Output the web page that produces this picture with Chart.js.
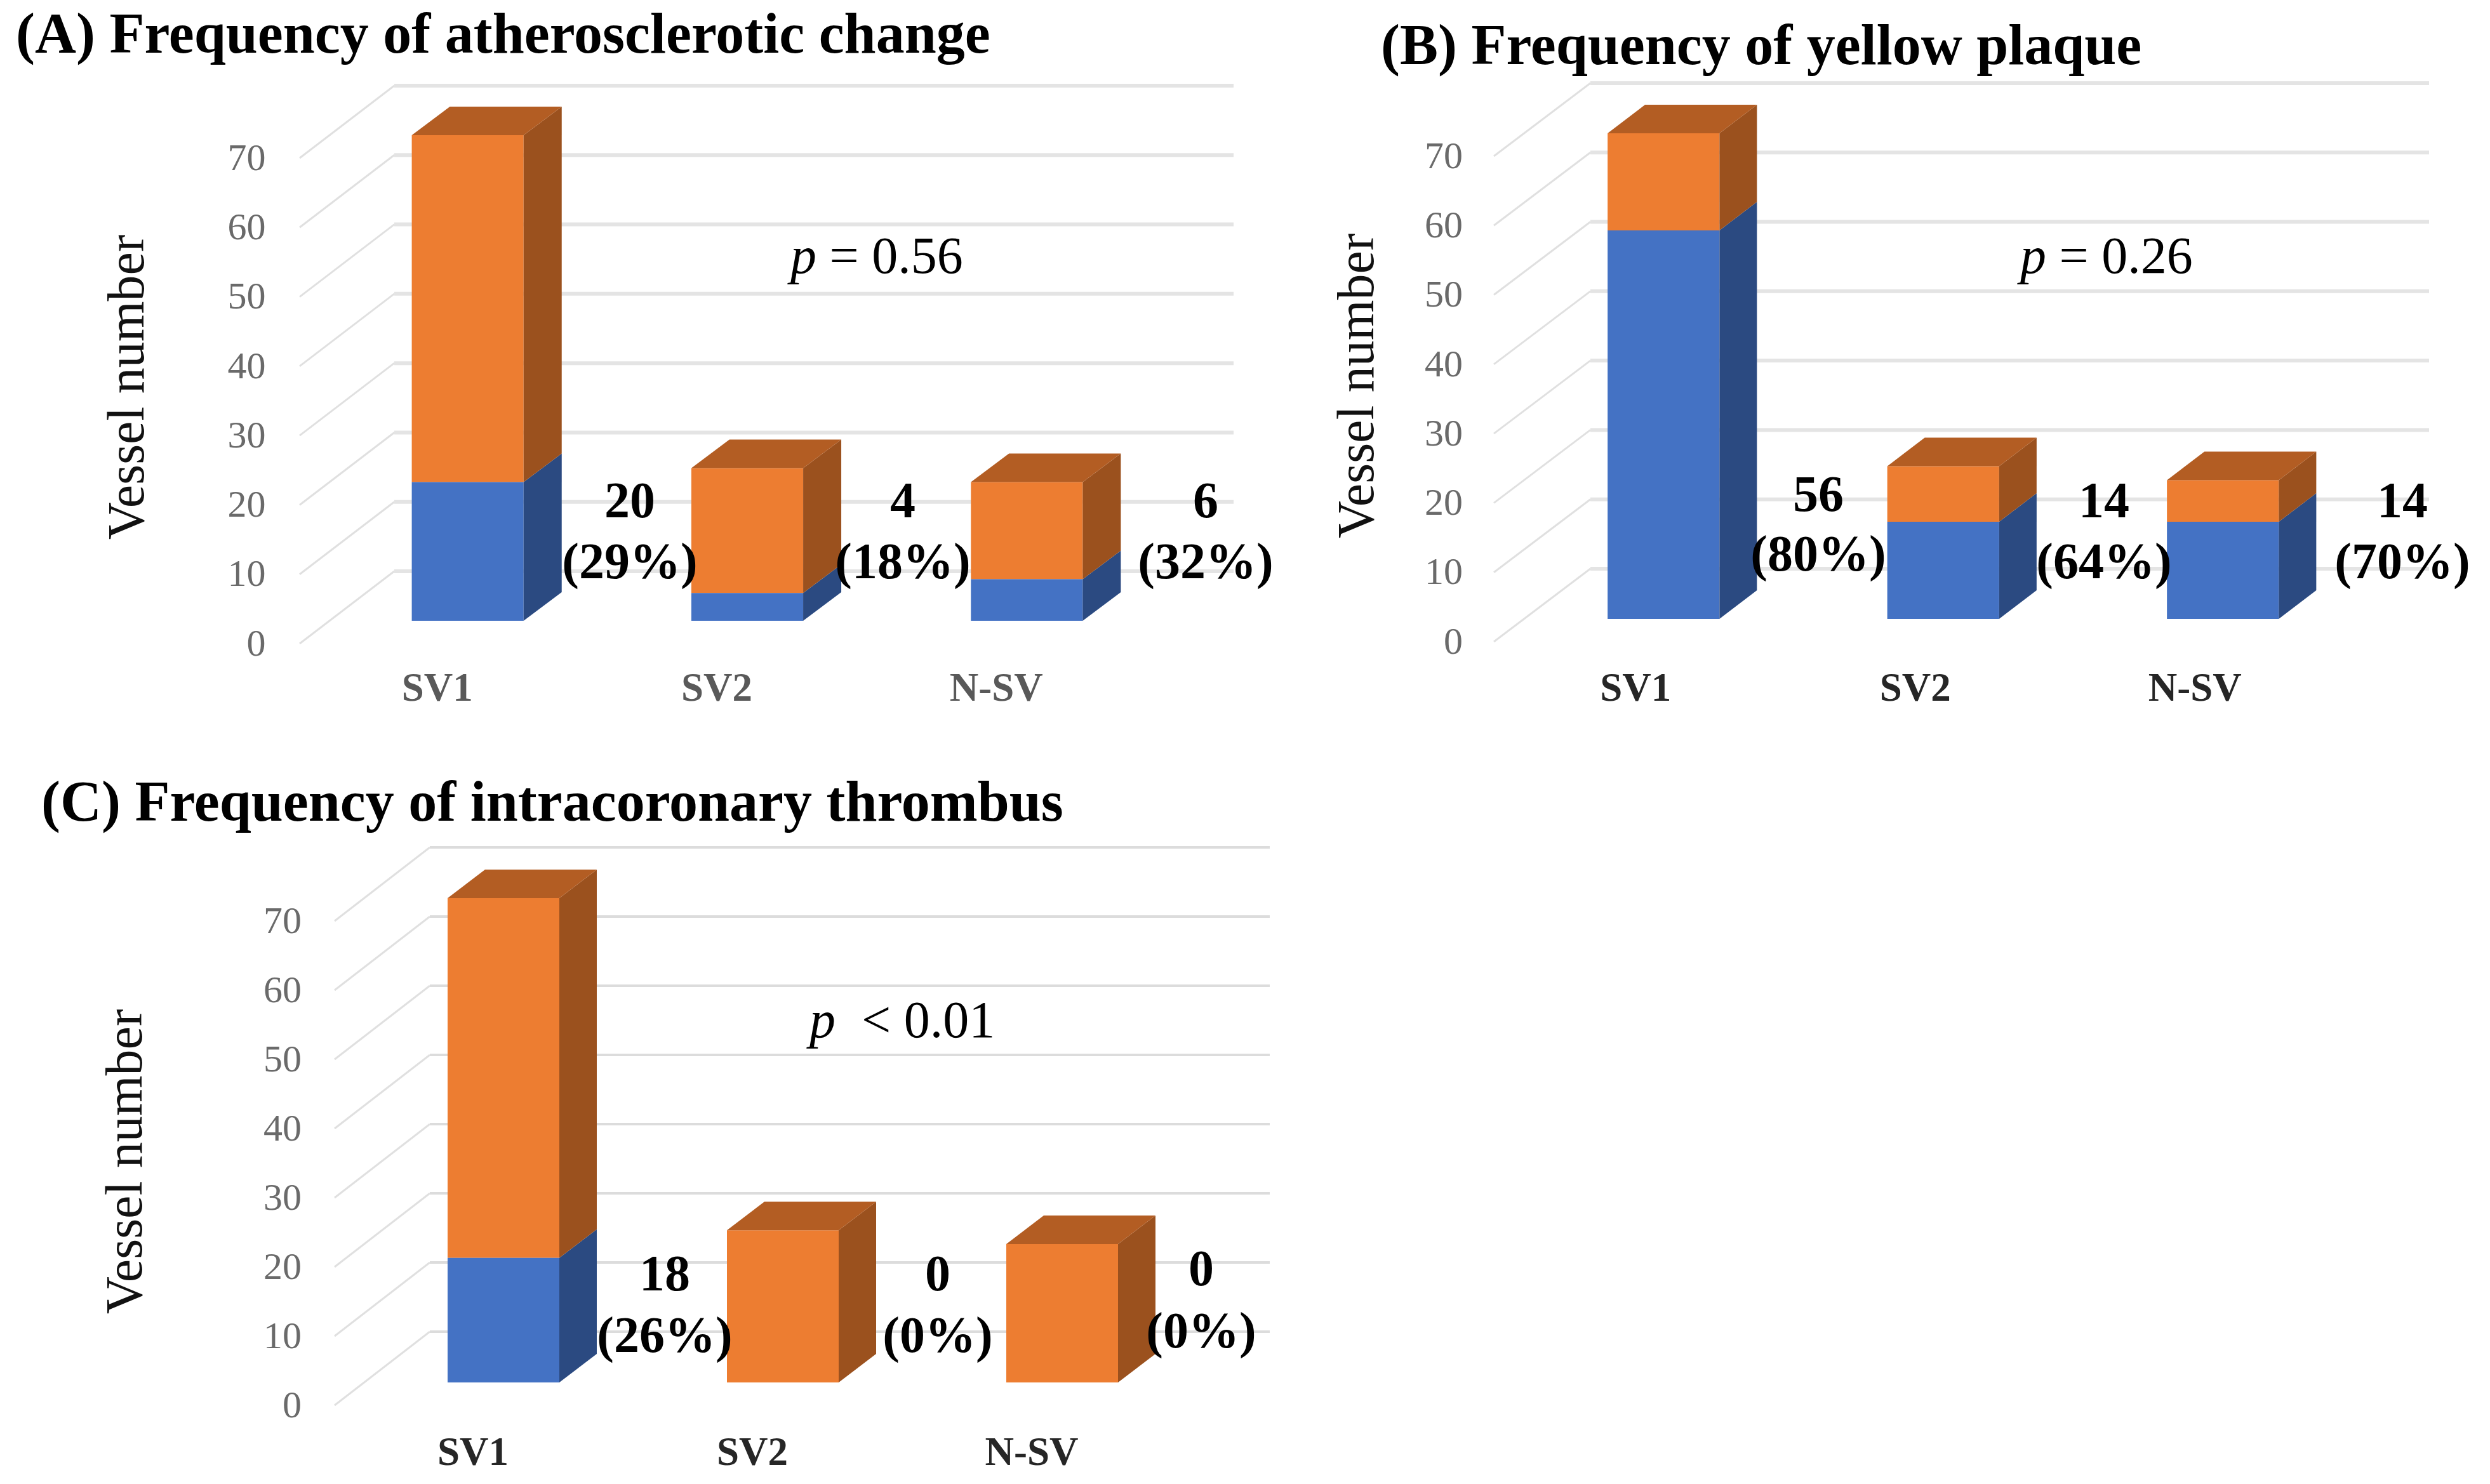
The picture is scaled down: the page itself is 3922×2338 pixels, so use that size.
<!DOCTYPE html>
<html>
<head>
<meta charset="utf-8">
<script src="https://cdn.jsdelivr.net/npm/chart.js@4"></script>
<style>
  html, body { margin: 0; padding: 0; background: #fff; overflow: hidden; }
  body { position: relative; width: 3922px; height: 2338px; }
  canvas { position: absolute; }
</style>
</head>
<body>
<canvas id="chartA"></canvas>
<canvas id="chartB"></canvas>
<canvas id="chartC"></canvas>
<script>
var categories = ['SV1', 'SV2', 'N-SV'];
var yTickValues = [0, 10, 20, 30, 40, 50, 60, 70];

// blue = positive vessels, orange = the rest of the vessels
var blueA = [20, 4, 6];
var orangeA = [50, 18, 14];
var blueB = [56, 14, 14];
var orangeB = [14, 8, 6];
var blueC = [18, 0, 0];
var orangeC = [52, 22, 20];

var countsA = ['20', '4', '6'];
var percentsA = ['(29%)', '(18%)', '(32%)'];
var countsB = ['56', '14', '14'];
var percentsB = ['(80%)', '(64%)', '(70%)'];
var countsC = ['18', '0', '0'];
var percentsC = ['(26%)', '(0%)', '(0%)'];

var SERIF = '"Liberation Serif", "Times New Roman", serif';

function makePanel(id, p) {
    var canvas = document.getElementById(id);
    canvas.width = p.width;
    canvas.height = p.height;
    canvas.style.width = p.width + 'px';
    canvas.style.height = p.height + 'px';
    canvas.style.left = p.left + 'px';
    canvas.style.top = p.top + 'px';

    var titleHeight = p.titleSize * 1.2;
    var xHeight = p.height - p.bottom;

    var solid3d = {
        id: 'solid3d',
        afterLayout: function (chart) {
            // put the native title where the figure has it
            var t = chart.titleBlock;
            t.left = p.titleX;
            t.right = p.titleX + 1900;
            t.top = p.titleY - titleHeight / 2;
        },
        beforeDatasetsDraw: function (chart) {
            var c = chart.ctx, y = chart.scales.y;
            c.save();
            yTickValues.forEach(function (v) {
                var px = y.getPixelForValue(v);
                c.strokeStyle = p.diagColor;
                c.lineWidth = 3;
                c.beginPath();
                c.moveTo(p.wallLeft - p.floorDx, px + p.frontDrop);
                c.lineTo(p.wallLeft, px - p.backRise);
                c.stroke();
                c.strokeStyle = p.gridColor;
                c.lineWidth = p.gridWidth;
                c.beginPath();
                c.moveTo(p.wallLeft, px - p.backRise);
                c.lineTo(p.wallRight, px - p.backRise);
                c.stroke();
            });
            c.restore();
        },
        afterDatasetsDraw: function (chart) {
            var c = chart.ctx;
            var sides = ['#2B4A81', '#9B511E'];
            c.save();
            [0, 1].forEach(function (d) {
                chart.getDatasetMeta(d).data.forEach(function (bar) {
                    if (Math.abs(bar.base - bar.y) < 0.5) return;
                    var r = bar.x + bar.width / 2;
                    c.fillStyle = sides[d];
                    c.beginPath();
                    c.moveTo(r, bar.y);
                    c.lineTo(r + p.depthX, bar.y - p.depthY);
                    c.lineTo(r + p.depthX, bar.base - p.depthY);
                    c.lineTo(r, bar.base);
                    c.closePath();
                    c.fill();
                });
            });
            chart.getDatasetMeta(1).data.forEach(function (bar) {
                var l = bar.x - bar.width / 2, r = bar.x + bar.width / 2;
                c.fillStyle = '#B35D23';
                c.beginPath();
                c.moveTo(l, bar.y);
                c.lineTo(l + p.depthX, bar.y - p.depthY);
                c.lineTo(r + p.depthX, bar.y - p.depthY);
                c.lineTo(r, bar.y);
                c.closePath();
                c.fill();
            });
            c.restore();
        },
        afterDraw: function (chart) {
            var c = chart.ctx;
            c.save();
            c.fillStyle = '#000';
            c.textAlign = 'center';
            c.textBaseline = 'middle';
            c.font = 'bold 80px ' + SERIF;
            p.counts.forEach(function (txt, i) {
                c.fillText(txt, p.noteX[i], p.countY[i]);
                c.fillText(p.percents[i], p.noteX[i], p.percentY[i]);
            });
            // p value, italic p followed by the upright rest
            c.textAlign = 'left';
            c.font = 'italic 82px ' + SERIF;
            c.fillText('p', p.pX, p.pY);
            var w = c.measureText('p').width;
            c.font = '82px ' + SERIF;
            c.fillText(p.pText, p.pX + w, p.pY);
            c.restore();
        }
    };

    return new Chart(canvas, {
        type: 'bar',
        data: {
            labels: categories,
            datasets: [
                { label: 'Positive', data: p.blue, backgroundColor: '#4472C4' },
                { label: 'Negative', data: p.orange, backgroundColor: '#ED7D31' }
            ]
        },
        options: {
            responsive: false,
            animation: false,
            devicePixelRatio: 1,
            barPercentage: 1,
            categoryPercentage: p.barShare,
            layout: {
                padding: {
                    left: 0,
                    top: p.areaTop - titleHeight,
                    right: p.width - p.areaRight,
                    bottom: 0
                }
            },
            plugins: {
                legend: { display: false },
                tooltip: { enabled: false },
                title: {
                    display: true,
                    text: p.title,
                    align: 'start',
                    color: '#000',
                    padding: 0,
                    font: { family: SERIF, size: p.titleSize, weight: 'bold', lineHeight: 1.2 }
                }
            },
            scales: {
                x: {
                    stacked: true,
                    grid: { display: false, drawTicks: false },
                    border: { display: false },
                    afterFit: function (axis) { axis.height = xHeight; },
                    ticks: {
                        color: p.xColor,
                        padding: p.xPad,
                        labelOffset: p.xShift,
                        maxRotation: 0,
                        autoSkip: false,
                        font: { family: SERIF, size: 63, weight: 'bold', lineHeight: 1.2 }
                    }
                },
                y: {
                    stacked: true,
                    min: p.yMin,
                    max: 70,
                    grid: { display: false, drawTicks: false },
                    border: { display: false },
                    afterFit: function (axis) { axis.width = p.areaLeft; },
                    afterBuildTicks: function (axis) {
                        axis.ticks = yTickValues.map(function (v) { return { value: v }; });
                    },
                    ticks: {
                        color: '#6A6A6A',
                        padding: p.yPad,
                        labelOffset: p.frontDrop + 3,
                        font: { family: SERIF, size: 60 }
                    },
                    title: {
                        display: true,
                        text: 'Vessel number',
                        color: '#111',
                        padding: { top: p.yTitlePad, bottom: 0 },
                        font: { family: SERIF, size: 82, lineHeight: 1.2 }
                    }
                }
            }
        },
        plugins: [solid3d]
    });
}

makePanel('chartA', {
    left: 0, top: 0, width: 2060, height: 1170,
    title: '(A) Frequency of atherosclerotic change',
    titleSize: 90, titleX: 25, titleY: 60,
    blue: blueA, orange: orangeA, counts: countsA, percents: percentsA,
    areaLeft: 516.5, areaRight: 1837.5, areaTop: 213, bottom: 1007, yMin: -2.65,
    barShare: 0.4, xPad: 43, xShift: -48, xColor: '#595959', yPad: 98, yTitlePad: 155,
    wallLeft: 621, wallRight: 1943, floorDx: 149, frontDrop: 36, backRise: 78,
    gridColor: '#E4E4E4', diagColor: '#E0E0E0', gridWidth: 6,
    depthX: 60, depthY: 45,
    noteX: [992, 1422, 1899], countY: [794, 794, 794], percentY: [890, 890, 890],
    pX: 1245, pY: 408, pText: ' = 0.56'
});

makePanel('chartB', {
    left: 2060, top: 0, width: 1862, height: 1170,
    title: '(B) Frequency of yellow plaque',
    titleSize: 90, titleX: 115, titleY: 78,
    blue: blueB, orange: orangeB, counts: countsB, percents: percentsB,
    areaLeft: 340, areaRight: 1661.5, areaTop: 210, bottom: 1006, yMin: -2.84,
    barShare: 0.4, xPad: 44, xShift: -44, xColor: '#262626', yPad: 96, yTitlePad: 32,
    wallLeft: 445, wallRight: 1766, floorDx: 152, frontDrop: 36, backRise: 79,
    gridColor: '#E4E4E4', diagColor: '#E0E0E0', gridWidth: 6,
    depthX: 59, depthY: 45,
    noteX: [804, 1254, 1724], countY: [784, 794, 794], percentY: [878, 890, 890],
    pX: 1122, pY: 408, pText: ' = 0.26'
});

// canvas runs past the page bottom so the axis padding does not squeeze the plot
makePanel('chartC', {
    left: 0, top: 1170, width: 2100, height: 1260,
    title: '(C) Frequency of intracoronary thrombus',
    titleSize: 90, titleX: 65, titleY: 100,
    blue: blueC, orange: orangeC, counts: countsC, percents: percentsC,
    areaLeft: 573, areaRight: 1893, areaTop: 245, bottom: 1075, yMin: -6.15,
    barShare: 0.4, xPad: 9, xShift: -48, xColor: '#262626', yPad: 98, yTitlePad: 152,
    wallLeft: 677, wallRight: 2000, floorDx: 150, frontDrop: 36, backRise: 80,
    gridColor: '#DCDCDC', diagColor: '#E0E0E0', gridWidth: 4,
    depthX: 59, depthY: 45,
    noteX: [1047, 1477, 1892], countY: [842, 842, 834], percentY: [939, 939, 932],
    pX: 1275, pY: 442, pText: '  < 0.01'
});
</script>
</body>
</html>
